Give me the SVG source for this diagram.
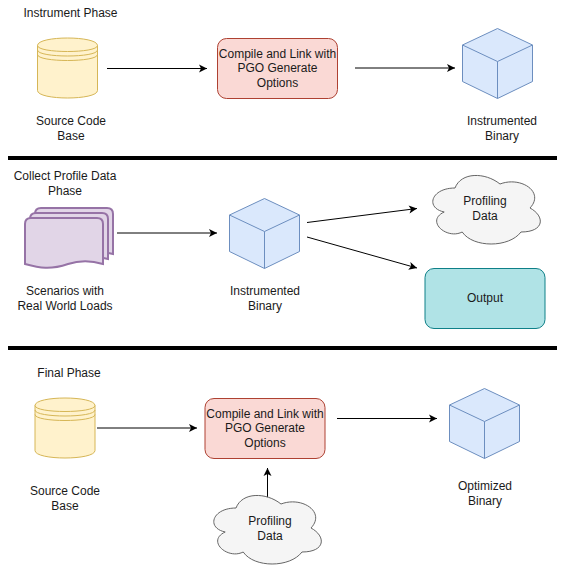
<svg xmlns="http://www.w3.org/2000/svg" width="564" height="570" viewBox="0 0 564 570">
<style>
text{font-family:"Liberation Sans",Arial,sans-serif;font-size:12px;fill:#1a1a1a;text-anchor:middle}
.cyl{fill:#fff2cc;stroke:#d6b656;stroke-width:1}
.box{fill:#fad9d5;stroke:#ae4132;stroke-width:1}
.cube{fill:#dae8fc;stroke:#6c8ebf;stroke-width:1;stroke-linejoin:round}
.cloud{fill:#f5f5f5;stroke:#666;stroke-width:1}
.doc{fill:#e1d5e7;stroke:#9673a6;stroke-width:2}
.out{fill:#b0e3e6;stroke:#0e8088;stroke-width:1}
.c{fill:none;stroke:#000;stroke-width:1;marker-end:url(#a)}
.sep{stroke:#000;stroke-width:4;fill:none}
</style>
<defs>
<marker id="a" markerUnits="userSpaceOnUse" markerWidth="10" markerHeight="10" refX="8" refY="4" orient="auto" overflow="visible"><path d="M0 0L8 4L0 8L2 4Z" fill="#000"/></marker>
<g id="cyl"><path d="M0 7.500C0-2.500 60-2.500 60 7.500V52.500C60 62.500 0 62.500 0 52.500Z"/><path fill="none" d="M0 7.500C0 15.500 60 15.500 60 7.500M0 12C0 20 60 20 60 12M0 16.500C0 24.500 60 24.500 60 16.500"/></g>
<g id="cube"><path d="M35 0L70 16.500V53L35 70L0 53V16.500Z"/><path fill="none" d="M0 16.500L35 33L70 16.500M35 33V70"/></g>
<path id="cloud" d="M30 20C6 20 0 40 19.200 44C0 52.800 21.600 72 37.200 64C48 80 84 80 96 64C120 64 120 48 105 40C120 24 96 8 75 16C60 4 36 4 30 20Z"/>
</defs>
<g id="separators">
<path class="sep" d="M8 158H557"/>
<path class="sep" d="M8 348H557"/>
</g>
<g id="connectors">
<path class="c" d="M107 68.500H207"/>
<path class="c" d="M355 68H455"/>
<path class="c" d="M117 233H217"/>
<path class="c" d="M307 222.500L417 208.500"/>
<path class="c" d="M307 237L417 268"/>
<path class="c" d="M97 428H197"/>
<path class="c" d="M267.500 498V468"/>
<path class="c" d="M337 418.500H437"/>
</g>
<g id="label-instrument"><text x="70.500" y="17">Instrument Phase</text></g>
<g id="source1"><use href="#cyl" class="cyl" x="37.500" y="38"/><text x="71" y="125">Source Code</text><text x="71" y="140">Base</text></g>
<g id="compile1"><rect class="box" x="217.500" y="38.500" width="120" height="60" rx="9"/><text x="277.500" y="58">Compile and Link with</text><text x="277.500" y="72">PGO Generate</text><text x="277.500" y="87">Options</text></g>
<g id="binary1"><use href="#cube" class="cube" x="462.500" y="28.500"/><text x="502" y="125">Instrumented</text><text x="502" y="140">Binary</text></g>
<g id="label-collect"><text x="65" y="180">Collect Profile Data</text><text x="65" y="195">Phase</text></g>
<g id="scenarios">
<path class="doc" d="M35 214Q35 208 41 208H107Q113 208 113 214V254C100 250 90 250 78 254C60 260 50 258 35 254Z"/>
<path class="doc" d="M30 219Q30 213 36 213H102Q108 213 108 219V259C95 255 85 255 73 259C55 265 45 263 30 259Z"/>
<path class="doc" d="M25 224Q25 218 31 218H97Q103 218 103 224V264C90 260 80 260 68 264C50 270 40 268 25 264Z"/>
<text x="65" y="295">Scenarios with</text><text x="65" y="310">Real World Loads</text></g>
<g id="binary2"><use href="#cube" class="cube" x="229.500" y="198.500"/><text x="265" y="295">Instrumented</text><text x="265" y="310">Binary</text></g>
<g id="cloud1"><use href="#cloud" class="cloud" x="425" y="168"/><text x="485" y="205">Profiling</text><text x="485" y="220">Data</text></g>
<g id="output"><rect class="out" x="425" y="268.500" width="120" height="60" rx="9"/><text x="485" y="302">Output</text></g>
<g id="label-final"><text x="69" y="377">Final Phase</text></g>
<g id="source2"><use href="#cyl" class="cyl" x="35" y="398"/><text x="65" y="495">Source Code</text><text x="65" y="510">Base</text></g>
<g id="compile2"><rect class="box" x="205" y="398.500" width="120" height="60" rx="9"/><text x="265" y="418">Compile and Link with</text><text x="265" y="432">PGO Generate</text><text x="265" y="447">Options</text></g>
<g id="cloud2"><use href="#cloud" class="cloud" x="206" y="488"/><text x="270" y="525">Profiling</text><text x="270" y="540">Data</text></g>
<g id="binary3"><use href="#cube" class="cube" x="449.500" y="388.500"/><text x="485" y="490">Optimized</text><text x="485" y="505">Binary</text></g>
</svg>
